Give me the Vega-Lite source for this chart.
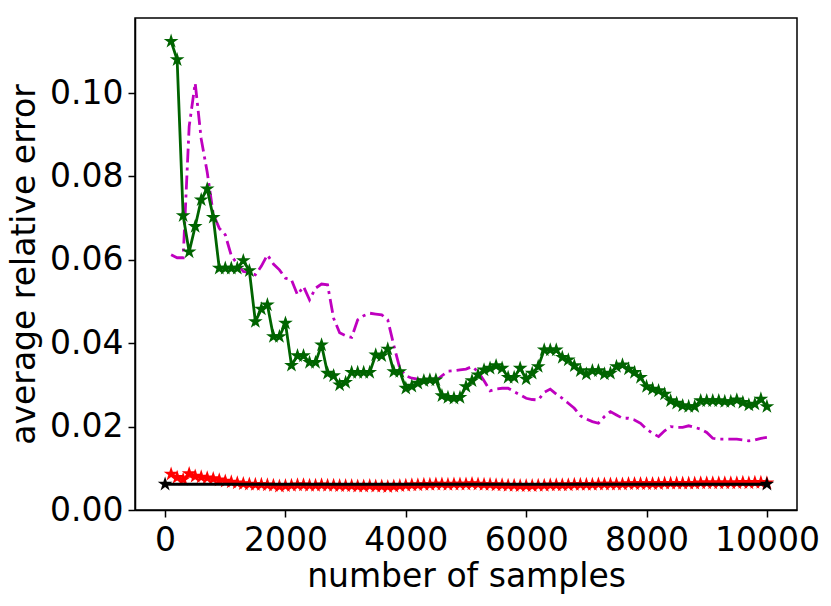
{
  "$schema": "https://vega.github.io/schema/vega-lite/v6.json",
  "width": 662,
  "height": 492,
  "autosize": {"type": "none"},
  "padding": {"left": 135, "top": 18, "right": 34, "bottom": 96},
  "background": "white",
  "datasets": {
    "main": [
      {"n":100,"g":0.1124,"m":0.0612,"r":0.0086},
      {"n":200,"g":0.108,"m":0.0605,"r":0.0078},
      {"n":300,"g":0.0706,"m":0.0605,"r":0.0073},
      {"n":400,"g":0.0619,"m":0.092,"r":0.0087},
      {"n":500,"g":0.068,"m":0.1024,"r":0.0081},
      {"n":600,"g":0.0744,"m":0.089,"r":0.0079},
      {"n":700,"g":0.077,"m":0.081,"r":0.0077},
      {"n":800,"g":0.0702,"m":0.071,"r":0.0075},
      {"n":900,"g":0.058,"m":0.0676,"r":0.0072},
      {"n":1000,"g":0.058,"m":0.066,"r":0.0069},
      {"n":1100,"g":0.058,"m":0.061,"r":0.0067},
      {"n":1200,"g":0.058,"m":0.059,"r":0.0065},
      {"n":1300,"g":0.0598,"m":0.0572,"r":0.0063},
      {"n":1400,"g":0.0574,"m":0.057,"r":0.0062},
      {"n":1500,"g":0.0452,"m":0.0564,"r":0.0061},
      {"n":1600,"g":0.0482,"m":0.0585,"r":0.0061},
      {"n":1700,"g":0.0492,"m":0.0612,"r":0.006},
      {"n":1800,"g":0.0416,"m":0.059,"r":0.0059},
      {"n":1900,"g":0.0416,"m":0.0576,"r":0.0057},
      {"n":2000,"g":0.0448,"m":0.0556,"r":0.0058},
      {"n":2100,"g":0.0347,"m":0.0552,"r":0.0059},
      {"n":2200,"g":0.037,"m":0.0516,"r":0.006},
      {"n":2300,"g":0.037,"m":0.0536,"r":0.006},
      {"n":2400,"g":0.0354,"m":0.0504,"r":0.0059},
      {"n":2500,"g":0.0354,"m":0.0532,"r":0.0059},
      {"n":2600,"g":0.0396,"m":0.0542,"r":0.006},
      {"n":2700,"g":0.0328,"m":0.054,"r":0.0059},
      {"n":2800,"g":0.0322,"m":0.046,"r":0.0059},
      {"n":2900,"g":0.03,"m":0.0425,"r":0.0058},
      {"n":3000,"g":0.0306,"m":0.0418,"r":0.0058},
      {"n":3100,"g":0.033,"m":0.0414,"r":0.0058},
      {"n":3200,"g":0.033,"m":0.0456,"r":0.0057},
      {"n":3300,"g":0.033,"m":0.0466,"r":0.0057},
      {"n":3400,"g":0.033,"m":0.0472,"r":0.0058},
      {"n":3500,"g":0.0372,"m":0.047,"r":0.0057},
      {"n":3600,"g":0.037,"m":0.0468,"r":0.0057},
      {"n":3700,"g":0.0386,"m":0.0456,"r":0.0056},
      {"n":3800,"g":0.0332,"m":0.0395,"r":0.0057},
      {"n":3900,"g":0.0332,"m":0.034,"r":0.0058},
      {"n":4000,"g":0.0292,"m":0.0322,"r":0.0059},
      {"n":4100,"g":0.0297,"m":0.0316,"r":0.006},
      {"n":4200,"g":0.0304,"m":0.0314,"r":0.006},
      {"n":4300,"g":0.031,"m":0.0308,"r":0.0061},
      {"n":4400,"g":0.0312,"m":0.0304,"r":0.0061},
      {"n":4500,"g":0.0312,"m":0.031,"r":0.0062},
      {"n":4600,"g":0.0274,"m":0.0322,"r":0.0062},
      {"n":4700,"g":0.027,"m":0.0333,"r":0.0061},
      {"n":4800,"g":0.0268,"m":0.0334,"r":0.0062},
      {"n":4900,"g":0.027,"m":0.0336,"r":0.0062},
      {"n":5000,"g":0.0296,"m":0.0338,"r":0.0062},
      {"n":5100,"g":0.031,"m":0.0344,"r":0.0063},
      {"n":5200,"g":0.0324,"m":0.0332,"r":0.0062},
      {"n":5300,"g":0.0336,"m":0.031,"r":0.0061},
      {"n":5400,"g":0.034,"m":0.0286,"r":0.0061},
      {"n":5500,"g":0.0346,"m":0.029,"r":0.006},
      {"n":5600,"g":0.034,"m":0.0292,"r":0.006},
      {"n":5700,"g":0.0318,"m":0.0292,"r":0.0059},
      {"n":5800,"g":0.0318,"m":0.0284,"r":0.0059},
      {"n":5900,"g":0.034,"m":0.0276,"r":0.0058},
      {"n":6000,"g":0.0314,"m":0.0268,"r":0.0058},
      {"n":6100,"g":0.0328,"m":0.0265,"r":0.0058},
      {"n":6200,"g":0.0344,"m":0.0264,"r":0.0059},
      {"n":6300,"g":0.0384,"m":0.0282,"r":0.0059},
      {"n":6400,"g":0.0384,"m":0.029,"r":0.006},
      {"n":6500,"g":0.0384,"m":0.0278,"r":0.006},
      {"n":6600,"g":0.0366,"m":0.0268,"r":0.006},
      {"n":6700,"g":0.036,"m":0.0256,"r":0.006},
      {"n":6800,"g":0.0346,"m":0.0244,"r":0.0061},
      {"n":6900,"g":0.0334,"m":0.0226,"r":0.0061},
      {"n":7000,"g":0.0326,"m":0.0218,"r":0.0061},
      {"n":7100,"g":0.0334,"m":0.0212,"r":0.0061},
      {"n":7200,"g":0.0334,"m":0.0208,"r":0.0062},
      {"n":7300,"g":0.0326,"m":0.0224,"r":0.0062},
      {"n":7400,"g":0.0328,"m":0.0236,"r":0.0062},
      {"n":7500,"g":0.0344,"m":0.0228,"r":0.0062},
      {"n":7600,"g":0.0348,"m":0.022,"r":0.0062},
      {"n":7700,"g":0.0338,"m":0.022,"r":0.0063},
      {"n":7800,"g":0.033,"m":0.0216,"r":0.0063},
      {"n":7900,"g":0.0318,"m":0.0208,"r":0.0063},
      {"n":8000,"g":0.0296,"m":0.0194,"r":0.0063},
      {"n":8100,"g":0.029,"m":0.0184,"r":0.0063},
      {"n":8200,"g":0.0286,"m":0.0176,"r":0.0063},
      {"n":8300,"g":0.0278,"m":0.019,"r":0.0064},
      {"n":8400,"g":0.0262,"m":0.02,"r":0.0064},
      {"n":8500,"g":0.0256,"m":0.0198,"r":0.0064},
      {"n":8600,"g":0.025,"m":0.0198,"r":0.0064},
      {"n":8700,"g":0.0248,"m":0.0202,"r":0.0064},
      {"n":8800,"g":0.0248,"m":0.0198,"r":0.0064},
      {"n":8900,"g":0.0262,"m":0.0194,"r":0.0065},
      {"n":9000,"g":0.0262,"m":0.0186,"r":0.0065},
      {"n":9100,"g":0.0262,"m":0.0172,"r":0.0065},
      {"n":9200,"g":0.0262,"m":0.017,"r":0.0065},
      {"n":9300,"g":0.026,"m":0.017,"r":0.0065},
      {"n":9400,"g":0.026,"m":0.017,"r":0.0065},
      {"n":9500,"g":0.0264,"m":0.017,"r":0.0065},
      {"n":9600,"g":0.0258,"m":0.0168,"r":0.0066},
      {"n":9700,"g":0.0252,"m":0.0166,"r":0.0065},
      {"n":9800,"g":0.0254,"m":0.0168,"r":0.0066},
      {"n":9900,"g":0.0266,"m":0.0172,"r":0.0066},
      {"n":10000,"g":0.0248,"m":0.0174,"r":0.0065}
    ],
    "ref": [
      {"n":0,"k":0.0062},
      {"n":10000,"k":0.0062}
    ]
  },
  "config": {
    "view": {"stroke": "black", "strokeWidth": 1.5},
    "font": "DejaVu Sans",
    "axis": {
      "grid": false,
      "domainColor": "black",
      "domainWidth": 1.5,
      "tickColor": "black",
      "tickWidth": 1.5,
      "tickSize": 7,
      "labelColor": "black",
      "titleColor": "black",
      "labelFont": "DejaVu Sans",
      "titleFont": "DejaVu Sans",
      "labelFontSize": 33,
      "titleFontSize": 33,
      "titleFontWeight": "normal",
      "labelPadding": 5
    }
  },
  "encoding": {
    "x": {
      "field": "n",
      "type": "quantitative",
      "scale": {"domain": [-500, 10500], "nice": false, "zero": false},
      "axis": {"title": "number of samples", "values": [0, 2000, 4000, 6000, 8000, 10000], "format": "d", "titlePadding": 3, "labelPadding": 7, "labelFlush": false, "labelOverlap": false}
    }
  },
  "layer": [
    {
      "data": {"name": "main"},
      "mark": {"type": "line", "color": "#bf00bf", "strokeWidth": 2.8, "strokeDash": [14, 5, 3, 5]},
      "encoding": {
        "y": {
          "field": "m",
          "type": "quantitative",
          "scale": {"domain": [0, 0.118], "nice": false, "zero": true},
          "axis": {"title": "average relative error", "values": [0, 0.02, 0.04, 0.06, 0.08, 0.1], "format": ".2f", "titlePadding": 8}
        }
      }
    },
    {
      "data": {"name": "main"},
      "mark": {"type": "line", "color": "#006400", "strokeWidth": 2.8, "point": {"shape": "M0,-1L0.2245,-0.309L0.9511,-0.309L0.3633,0.118L0.5878,0.809L0,0.382L-0.5878,0.809L-0.3633,0.118L-0.9511,-0.309L-0.2245,-0.309Z", "size": 240, "filled": true, "color": "#006400"}},
      "encoding": {"y": {"field": "g", "type": "quantitative"}}
    },
    {
      "data": {"name": "main"},
      "mark": {"type": "line", "color": "#ff0000", "strokeWidth": 2.8, "point": {"shape": "M0,-1L0.2245,-0.309L0.9511,-0.309L0.3633,0.118L0.5878,0.809L0,0.382L-0.5878,0.809L-0.3633,0.118L-0.9511,-0.309L-0.2245,-0.309Z", "size": 240, "filled": true, "color": "#ff0000"}},
      "encoding": {"y": {"field": "r", "type": "quantitative"}}
    },
    {
      "data": {"name": "ref"},
      "mark": {"type": "line", "color": "black", "strokeWidth": 3, "point": {"shape": "M0,-1L0.2245,-0.309L0.9511,-0.309L0.3633,0.118L0.5878,0.809L0,0.382L-0.5878,0.809L-0.3633,0.118L-0.9511,-0.309L-0.2245,-0.309Z", "size": 240, "filled": true, "color": "black"}},
      "encoding": {"y": {"field": "k", "type": "quantitative"}}
    }
  ]
}
